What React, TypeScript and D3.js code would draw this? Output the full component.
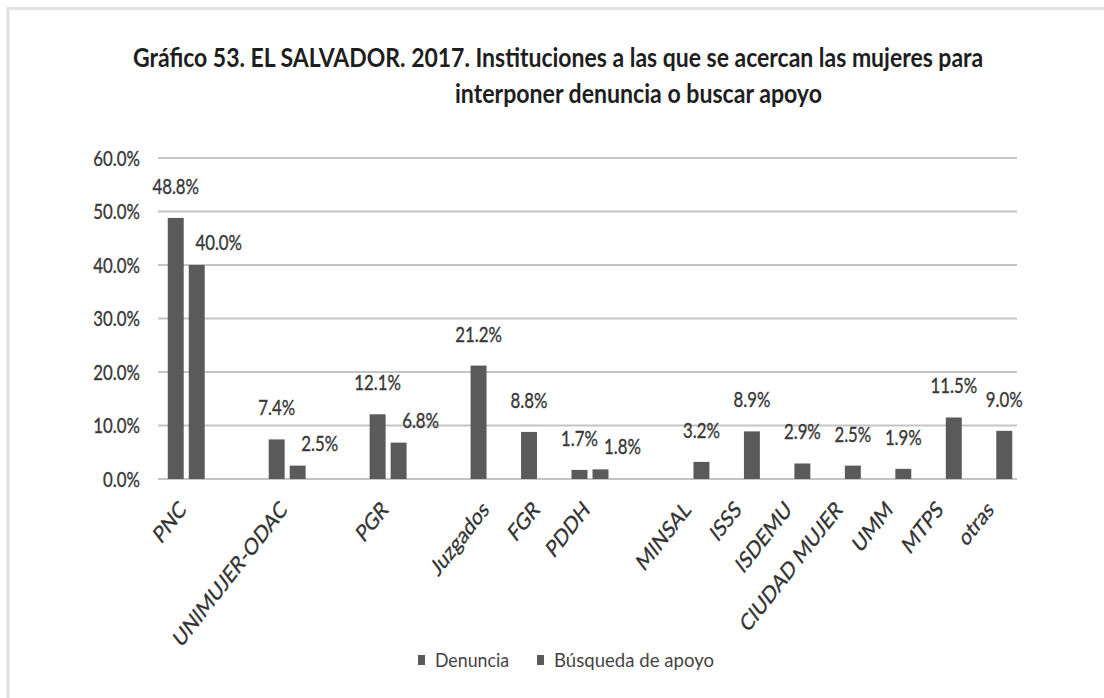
import React, { useLayoutEffect, useRef } from "react";
import * as d3 from "d3";

// ---------- data ----------
const categories = [
  "PNC", "UNIMUJER-ODAC", "PGR", "Juzgados", "FGR", "PDDH",
  "MINSAL", "ISSS", "ISDEMU", "CIUDAD MUJER", "UMM", "MTPS", "otras",
];
const seriesNames = ["Denuncia", "Búsqueda de apoyo"];
const denuncia: (number | null)[] = [0.488, 0.074, 0.121, 0.212, 0.088, 0.017, null, null, null, null, null, null, null];
const busqueda: (number | null)[] = [0.400, 0.025, 0.068, null, null, 0.018, 0.032, 0.089, 0.029, 0.025, 0.019, 0.115, 0.090];
const yTicks = [0, 0.1, 0.2, 0.3, 0.4, 0.5, 0.6];
// axis slots: the categories plus the empty positions the original chart leaves between them
const slots = [
  "PNC", "_gap1", "UNIMUJER-ODAC", "_gap2", "PGR", "_gap3", "Juzgados", "FGR", "PDDH", "_gap4",
  "MINSAL", "ISSS", "ISDEMU", "CIUDAD MUJER", "UMM", "MTPS", "otras",
];
const titleLine1 = "Gráfico 53. EL SALVADOR. 2017. Instituciones a las que se acercan las mujeres para";
const titleLine2 = "interponer denuncia o buscar apoyo";

// ---------- layout ----------
const W = 1104;
const H = 698;
const FONT = "Lato, 'Open Sans', 'Liberation Sans', sans-serif";
const SX = 0.8; // horizontal compression of the source picture
const BAR = "#5a5a5a";
const GRID = "#c4c4c4";
const TXT = "#383838";

const plotLeft = 158;
const plotRight = 1017;
const x = d3.scaleBand<string>().domain(slots).range([161, 1019]).padding(0);
const xi = d3.scaleBand<string>().domain(seriesNames).range([-21, 21]).paddingInner(0.24).paddingOuter(0.12);
const y = d3.scaleLinear().domain([0, 0.6]).range([479, 158]);
const fmt = d3.format(".1%");

type Bar = { cat: string; series: string; value: number; paired: boolean };
const bars: Bar[] = [];
categories.forEach((c, i) => {
  const paired = denuncia[i] != null && busqueda[i] != null;
  if (denuncia[i] != null) bars.push({ cat: c, series: seriesNames[0], value: denuncia[i] as number, paired });
  if (busqueda[i] != null) bars.push({ cat: c, series: seriesNames[1], value: busqueda[i] as number, paired });
});

const slotCenter = (c: string) => (x(c) as number) + x.bandwidth() / 2;

function CText(props: { x: number; y: number; anchor?: string; size: number; fill?: string; weight?: string; rotate?: number; sx?: number; children: React.ReactNode }) {
  const { x: tx, y: ty, anchor = "start", size, fill = TXT, weight = "normal", rotate = 0, sx = SX, children } = props;
  return (
    <text
      transform={`translate(${tx},${ty}) scale(${sx},1)${rotate ? ` rotate(${rotate})` : ""}`}
      textAnchor={anchor}
      fontFamily={FONT}
      fontSize={size}
      fontWeight={weight}
      fill={fill}
      stroke={fill}
      strokeWidth={0.35}
    >
      {children}
    </text>
  );
}

// text squeezed horizontally to a measured target width
function FitText(props: { x: number; y: number; width: number; size: number; weight?: string; fill: string; children: string }) {
  const ref = useRef<SVGTextElement>(null);
  const { x: tx, y: ty, width, size, weight = "normal", fill, children } = props;
  useLayoutEffect(() => {
    const el = ref.current;
    if (!el) return;
    const natural = el.getComputedTextLength();
    const s = natural > 0 ? width / natural : 1;
    el.setAttribute("transform", `translate(${tx},${ty}) scale(${s},1)`);
  }, [tx, ty, width, children]);
  return (
    <text ref={ref} transform={`translate(${tx},${ty}) scale(${SX},1)`} fontFamily={FONT}
      fontSize={size} fontWeight={weight} fill={fill}>
      {children}
    </text>
  );
}

export default function App() {
  return (
    <svg
      width={W}
      height={H}
      viewBox={`0 0 ${W} ${H}`}
      style={{ position: "absolute", left: 0, top: 0, background: "#fff" }}
    >
      <rect x={0} y={0} width={W} height={H} fill="#fff" />
      {/* frame edges of the scanned picture */}
      <line x1={7} x2={W} y1={8.5} y2={8.5} stroke="#e2e2e2" strokeWidth={3} />
      <line x1={8} x2={8} y1={7} y2={H} stroke="#e2e2e2" strokeWidth={3} />

      {/* title */}
      <FitText x={133} y={67} width={850} size={27} weight="bold" fill="#1e1e1e">{titleLine1}</FitText>
      <FitText x={455} y={103} width={367} size={27} weight="bold" fill="#1e1e1e">{titleLine2}</FitText>

      {/* gridlines + y labels */}
      {yTicks.map((t) => (
        <g key={t}>
          <line x1={plotLeft} x2={plotRight} y1={y(t)} y2={y(t)} stroke={GRID} strokeWidth={2} />
          <CText x={140} y={y(t) + 7.5} anchor="end" size={21}>{fmt(t)}</CText>
        </g>
      ))}

      {/* bars */}
      {bars.map((b) => {
        const bx = slotCenter(b.cat) + (xi(b.series) as number);
        return (
          <rect key={b.cat + b.series} x={bx} y={y(b.value)} width={xi.bandwidth()}
            height={y(0) - y(b.value)} fill={BAR} />
        );
      })}

      {/* data labels */}
      {bars.map((b) => {
        const cx = slotCenter(b.cat) + (xi(b.series) as number) + xi.bandwidth() / 2;
        const shifted = b.paired && b.series === seriesNames[1];
        const lx = shifted ? cx + 22 : cx;
        const ly = shifted ? y(b.value) - 15 : y(b.value) - 24;
        return (
          <CText key={"l" + b.cat + b.series} x={lx} y={ly} anchor="middle" size={21}>{fmt(b.value)}</CText>
        );
      })}

      {/* category labels */}
      {categories.map((c) => (
        <CText key={"c" + c} x={slotCenter(c) + 1} y={511} anchor="end" size={23.5} sx={0.78} rotate={-45} fill="#333">{c}</CText>
      ))}

      {/* legend */}
      {seriesNames.map((s, i) => {
        const lx = i === 0 ? 418 : 537;
        const tl = i === 0 ? 74 : 160;
        return (
          <g key={"lg" + s}>
            <rect x={lx} y={655} width={7} height={10} fill={BAR} />
            <FitText x={lx + 17} y={667} width={tl} size={19} fill="#444">{s}</FitText>
          </g>
        );
      })}
    </svg>
  );
}
